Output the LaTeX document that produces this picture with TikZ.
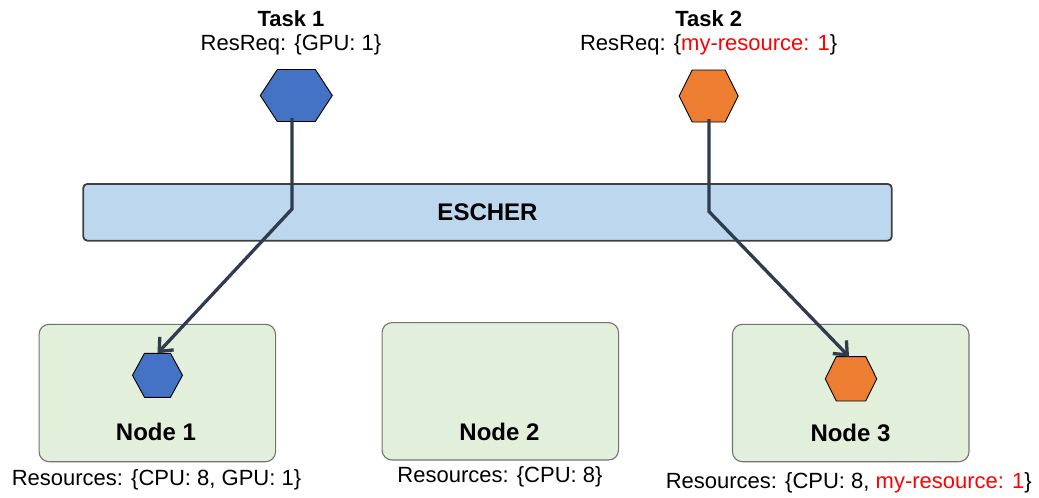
\documentclass[tikz,border=0pt]{standalone}
\usepackage{fontspec}
\setmainfont{Liberation Sans}
\usetikzlibrary{arrows.meta,calc}
\definecolor{hexblue}{HTML}{4472C4}
\definecolor{hexorange}{HTML}{ED7D31}
\definecolor{barfill}{HTML}{BDD7EE}
\definecolor{boxfill}{HTML}{E2EFDA}
\definecolor{conncol}{HTML}{2F3B4F}
\definecolor{resred}{HTML}{FF0000}
\newcommand{\myhex}[3]{%
  \draw[#3] (#1.west) -- ([xshift=#2]#1.north west) -- ([xshift=-#2]#1.north east)
    -- (#1.east) -- ([xshift=-#2]#1.south east) -- ([xshift=#2]#1.south west) -- cycle;}
\tikzset{
  hexbox/.style={draw=none, inner sep=0pt, outer sep=0pt, shape=rectangle},
  hexstroke/.style={draw=black, line width=0.9pt},
  conn/.style={draw=conncol, line width=3.3pt, line join=miter,
    -{Straight Barb[length=11pt, width=19pt, line width=3.3pt]}},
  bar/.style={draw=black!75, line width=1.8pt, fill=barfill, rounded corners=4pt,
    inner sep=0pt, minimum width=808.4pt, minimum height=56.7pt,
    font=\fontsize{24}{28}\selectfont\bfseries},
  machine/.style={draw=black!55, line width=1.1pt, fill=boxfill, rounded corners=10pt,
    minimum width=236.5pt, minimum height=137.4pt, inner sep=0pt},
  title/.style={anchor=base, inner sep=0pt, font=\fontsize{22}{26}\selectfont\bfseries},
  txt/.style={anchor=base, inner sep=0pt, font=\fontsize{22}{26}\selectfont},
  mlabel/.style={anchor=base, inner sep=0pt, font=\fontsize{24}{28}\selectfont\bfseries},
}
\begin{document}
\begin{tikzpicture}[x=1pt,y=-1pt]
\useasboundingbox (0,0) rectangle (1039,498);

% ESCHER bar
\node[bar] (escher) at (487.5,212.3) {ESCHER};

% machines
\node[machine] (n1) at (157.3,393) {};
\node[machine] (n2) at (500.3,391.3) {};
\node[machine] (n3) at (850.7,393) {};

\node[mlabel] (n1l) at (156,440) {Node 1};
\node[mlabel] (n2l) at (499.5,440) {Node 2};
\node[mlabel] (n3l) at (850.5,441.7) {Node 3};

\node[txt] (n1r) at (156.5,485) {Resources: \{CPU: 8, GPU: 1\}};
\node[txt] (n2r) at (500,482) {Resources: \{CPU: 8\}};
\node[txt] (n3r) at (848.8,488) {Resources: \{CPU: 8, \textcolor{resred}{my-resource: 1}\}};

% task titles
\node[title] (t1t) at (291,26) {Task 1};
\node[txt] (t1r) at (291,50) {ResReq: \{GPU: 1\}};
\node[title] (t2t) at (708.7,26) {Task 2};
\node[txt] (t2r) at (708.7,50) {ResReq: \{\textcolor{resred}{my-resource: 1}\}};

% hexagons
\node[hexbox, minimum width=72pt, minimum height=52pt] (t1) at (296.3,95.5) {};
\myhex{t1}{17pt}{hexstroke, fill=hexblue}
\node[hexbox, minimum width=59pt, minimum height=52pt] (t2) at (708.7,96) {};
\myhex{t2}{13pt}{hexstroke, fill=hexorange}
\node[hexbox, minimum width=50pt, minimum height=44pt] (h1) at (157.5,375.3) {};
\myhex{h1}{12pt}{hexstroke, fill=hexblue}
\node[hexbox, minimum width=51.5pt, minimum height=44.3pt] (h3) at (851,378.8) {};
\myhex{h3}{11pt}{hexstroke, fill=hexorange}

% connectors
\coordinate (t1s) at (292,118);
\coordinate (b1) at (292,209);
\coordinate (t2s) at (709,119);
\coordinate (b2) at (709,211.5);
\draw[conn] (t1s) -- (b1) -- (h1.north);
\draw[conn] (t2s) -- (b2) -- ([xshift=-2pt]h3.north);
\end{tikzpicture}
\end{document}
